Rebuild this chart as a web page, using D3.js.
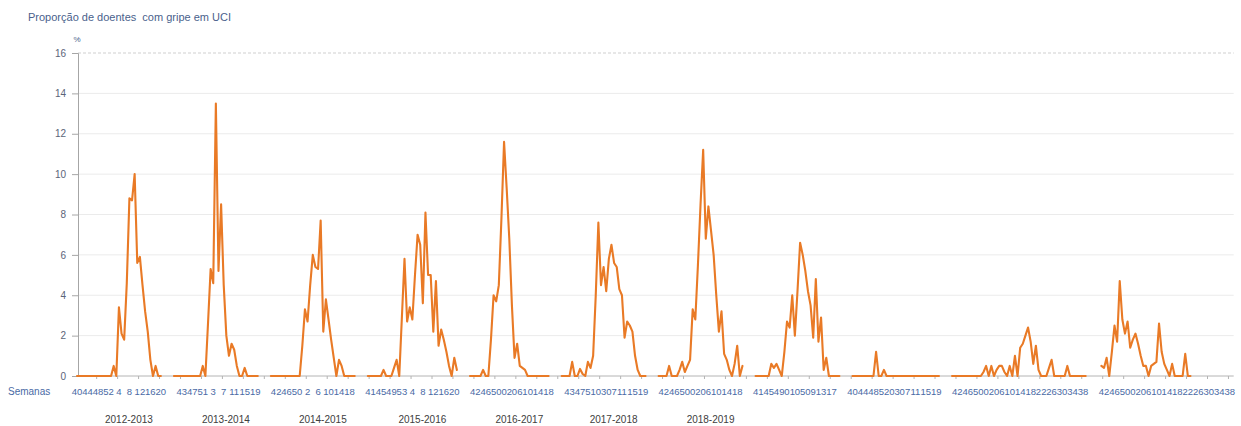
<!DOCTYPE html>
<html><head><meta charset="utf-8">
<script src="https://cdn.jsdelivr.net/npm/d3@7"></script>
<style>
body{margin:0;background:#fff}
svg{display:block}
text{font-family:"Liberation Sans",Arial,sans-serif}
</style>
</head><body><svg id="c" width="1241" height="426"></svg>
<script>
(function(){
// ---------- data ----------
const seasons = ["2012-2013","2013-2014","2014-2015","2015-2016","2016-2017","2017-2018","2018-2019","2019-2020","2020-2021","2021-2022","2022-2023"];
const seasonCaptions = ["2012-2013","2013-2014","2014-2015","2015-2016","2016-2017","2017-2018","2018-2019","","","",""];
const seasonStartWeek = [40,40,40,40,40,40,40,40,40,40,40];
const weeksInFirstYear = [52,52,52,53,52,52,52,52,53,52,52];
const zeroPadWeeks = [false,false,false,false,true,true,true,true,true,true,true];
const yTicks = [0,2,4,6,8,10,12,14,16];

const v2012_13 = [0,0,0,0,0,0,0,0,0,0,0,0,0,0,0.5,0,3.4,2.1,1.8,4.6,8.8,8.7,10.0,5.6,5.9,4.5,3.2,2.2,0.8,0,0.5,0,0];
const v2013_14 = [0,0,0,0,0,0,0,0,0,0,0,0.5,0,2.6,5.3,4.6,13.5,5.2,8.5,4.5,2.0,1.0,1.6,1.3,0.5,0,0,0.4,0,0,0,0,0];
const v2014_15 = [0,0,0,0,0,0,0,0,0,0,0,0,1.5,3.3,2.7,4.5,6.0,5.4,5.3,7.7,2.2,3.8,2.8,1.8,0.9,0,0.8,0.5,0,0,0,0,0];
const v2015_16 = [0,0,0,0,0,0,0.3,0,0,0,0.4,0.8,0,2.9,5.8,2.7,3.4,2.8,5.0,7.0,6.5,3.6,8.1,5.0,5.0,2.2,4.7,1.5,2.3,1.8,1.2,0.5,0,0.9,0.3];
const v2016_17 = [0,0,0,0,0,0.3,0,0,1.8,4.0,3.7,4.5,7.8,11.6,9.3,6.8,3.5,0.9,1.6,0.5,0.4,0.3,0,0,0,0,0,0,0,0,0];
const v2017_18 = [0,0,0,0,0.7,0,0,0.35,0.1,0,0.7,0.4,1.0,4.0,7.6,4.5,5.4,4.2,5.8,6.5,5.6,5.4,4.3,4.0,1.9,2.7,2.5,2.2,1.0,0.3,0,0,0];
const v2018_19 = [0,0,0,0,0.5,0,0,0,0.3,0.7,0.2,0.5,0.8,3.3,2.8,5.5,8.5,11.2,6.8,8.4,7.2,6.0,4.0,2.2,3.2,1.1,0.8,0.3,0,0.6,1.5,0,0.5];
const v2019_20 = [0,0,0,0,0,0,0.6,0.4,0.6,0.3,0,1.2,2.7,2.4,4.0,2.0,4.2,6.6,6.0,5.2,4.2,3.5,1.9,4.8,1.7,2.9,0.3,0.9,0,0,0,0,0];
const v2020_21 = [0,0,0,0,0,0,0,0,0,1.2,0,0,0.3,0,0,0,0,0,0,0,0,0,0,0,0,0,0,0,0,0,0,0,0,0];
const v2021_22 = [0,0,0,0,0,0,0,0,0,0,0,0,0.2,0.5,0,0.5,0,0.3,0.5,0.5,0.2,0,0.5,0,1.0,0,1.4,1.6,2.0,2.4,1.7,0.6,1.5,0.3,0,0,0,0.4,0.8,0,0,0,0,0,0.5,0,0,0,0,0,0,0];
const v2022_23 = [null,0.5,0.4,0.9,0,1.2,2.5,1.7,4.7,2.8,2.1,2.7,1.4,1.8,2.1,1.6,1.0,0.5,0.5,0,0.5,0.6,0.7,2.6,1.2,0.6,0.3,0,0.6,0,0,0,0,1.1,0,0,null,null,null,null,null,null,null,null,null,null,null,null,null,null,null,null];
const seasonValues = [v2012_13,v2013_14,v2014_15,v2015_16,v2016_17,v2017_18,v2018_19,v2019_20,v2020_21,v2021_22,v2022_23];

// ---------- build categories (weeks + 4 blank categories between seasons) ----------
const GAP = 4;
const cats = [];
seasons.forEach((s, si) => {
  let w = seasonStartWeek[si];
  seasonValues[si].forEach((val, k) => {
    cats.push({key: `s${si}w${k}`, week: w, season: si, v: val});
    w = (w === weeksInFirstYear[si]) ? 1 : w + 1;
  });
  if (si < seasons.length - 1) {
    for (let g = 0; g < GAP; g++) cats.push({key: `gap${si}_${g}`, week: null, season: null, v: null});
  }
});

// ---------- layout ----------
const svg = d3.select("#c");
const pL = 75.7, pR = 1233.7, pT = 53, pB = 376;
const x = d3.scaleBand().domain(cats.map(d => d.key)).range([pL, pR]).padding(0);
const cx = d => x(d.key) + x.bandwidth() / 2;
const y = d3.scaleLinear().domain([0, 16]).range([pB, pT]);

// gridlines
svg.append("g").selectAll("line").data(yTicks.filter(t => t > 0)).join("line")
  .attr("x1", 78).attr("x2", pR).attr("y1", d => y(d)).attr("y2", d => y(d))
  .attr("stroke", d => d === 16 ? "#cfcfcf" : "#ebebeb")
  .attr("stroke-dasharray", d => d === 16 ? "3,2" : null)
  .attr("stroke-width", 1);

// y axis
const yAxis = svg.append("g").attr("transform", "translate(78,0)")
  .call(d3.axisLeft(y).tickValues(yTicks).tickSize(6).tickPadding(6).tickFormat(d3.format("d")));
yAxis.select(".domain").attr("stroke", "#a6a6a6");
yAxis.selectAll(".tick line").attr("stroke", "#a6a6a6");
yAxis.selectAll(".tick text").attr("fill", "#5b6478").attr("font-size", 10)
  .style("font-family", '"Liberation Sans",Arial,sans-serif');

// x axis line
svg.append("line").attr("x1", 78).attr("x2", pR).attr("y1", pB).attr("y2", pB)
  .attr("stroke", "#b4b4b4").attr("stroke-width", 1);

// x axis small tick marks every 8 categories
svg.append("g").selectAll("line").data(cats.filter((d, i) => i % 8 === 0 && i > 0)).join("line")
  .attr("x1", d => x(d.key)).attr("x2", d => x(d.key))
  .attr("y1", pB).attr("y2", pB + 3)
  .attr("stroke", "#b4b4b4");

// week labels (every 4th category)
const labelKeys = cats.filter((d, i) => i % 4 === 0 && d.week !== null).map(d => d.key);
const byKey = new Map(cats.map(d => [d.key, d]));
const xAxis = svg.append("g").attr("transform", `translate(0,${pB})`)
  .call(d3.axisBottom(x).tickValues(labelKeys).tickSize(0).tickPadding(19)
    .tickFormat(k => {
      const d = byKey.get(k);
      return zeroPadWeeks[d.season] ? String(d.week).padStart(2, "0") : String(d.week);
    }));
xAxis.select(".domain").remove();
xAxis.selectAll(".tick text").attr("fill", "#4a6aa5").attr("font-size", 9.5)
  .attr("dy", "0")
  .style("font-family", '"Liberation Sans",Arial,sans-serif');

// season captions (placed slightly right of each season's centre, as in the original)
svg.append("g").selectAll("text").data(seasons.map((s, si) => {
  const cs = cats.filter(d => d.season === si);
  return {caption: seasonCaptions[si], a: cs[0], b: cs[cs.length - 1]};
}).filter(d => d.caption)).join("text")
  .attr("x", d => (cx(d.a) + cx(d.b)) / 2 + 10).attr("y", 423)
  .attr("text-anchor", "middle").attr("font-size", 10).attr("fill", "#404040")
  .text(d => d.caption);

// titles
svg.append("text").attr("x", 28).attr("y", 21).attr("font-size", 11).attr("fill", "#4a5f8c")
  .attr("xml:space", "preserve").text("Proporção de doentes  com gripe em UCI");
svg.append("text").attr("x", 77).attr("y", 42).attr("font-size", 8).attr("fill", "#4a5f8c")
  .attr("text-anchor", "middle").text("%");
svg.append("text").attr("x", 8).attr("y", 395).attr("font-size", 10).attr("fill", "#4a6aa5")
  .text("Semanas");

// line
const line = d3.line().defined(d => d.v !== null).x(cx).y(d => y(d.v));
svg.append("path").datum(cats).attr("d", line)
  .attr("fill", "none").attr("stroke", "#e97a26").attr("stroke-width", 2.1)
  .attr("stroke-linejoin", "round").attr("stroke-linecap", "round");
})();
</script>
</body></html>
